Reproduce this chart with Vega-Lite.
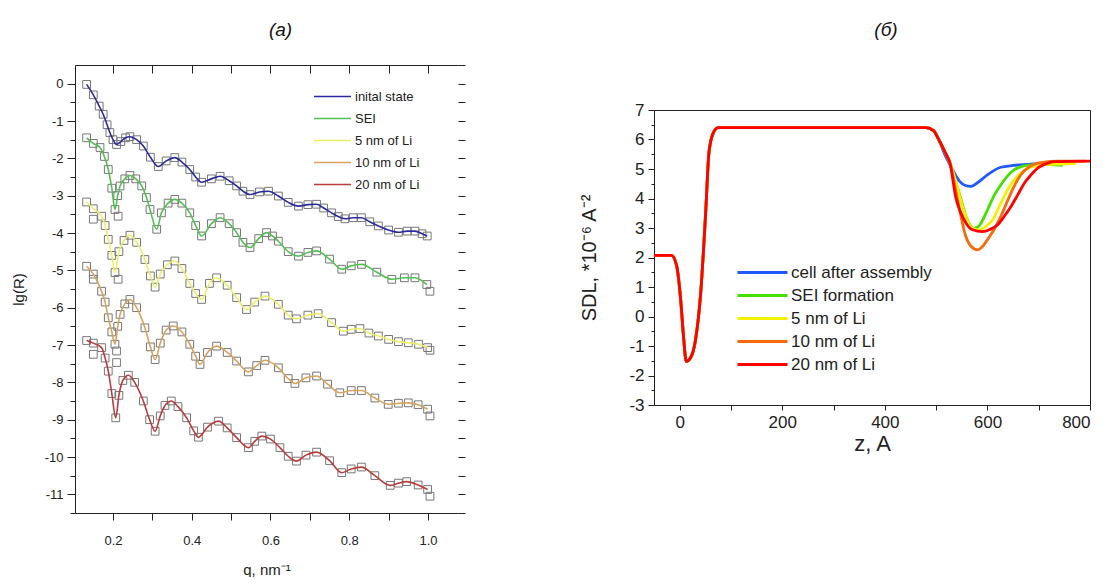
{
"$schema": "https://vega.github.io/schema/vega-lite/v6.json",
"padding": {"left": 11, "top": 20, "right": 5, "bottom": 0},
"background": "white",
"config": {
 "font": "Liberation Sans",
 "view": {"stroke": "#222", "strokeWidth": 1},
 "axis": {"grid": false, "domainColor": "#222", "tickColor": "#222", "labelColor": "#222", "titleColor": "#222", "titleFontWeight": "normal", "labelFont": "Liberation Sans", "titleFont": "Liberation Sans"},
 "title": {"font": "Liberation Sans", "fontWeight": "normal", "color": "#111"},
 "legend": {"labelFont": "Liberation Sans", "labelColor": "#222"}
},
"datasets": {
 "L": [
 {"s":"inital state","q":0.133,"r":-0.02},{"s":"inital state","q":0.15,"r":-0.3},{"s":"inital state","q":0.165,"r":-0.6},{"s":"inital state","q":0.175,"r":-0.82},{"s":"inital state","q":0.185,"r":-1.1},{"s":"inital state","q":0.192,"r":-1.31},{"s":"inital state","q":0.2,"r":-1.5},{"s":"inital state","q":0.209,"r":-1.63},{"s":"inital state","q":0.22,"r":-1.55},{"s":"inital state","q":0.232,"r":-1.45},{"s":"inital state","q":0.243,"r":-1.42},{"s":"inital state","q":0.26,"r":-1.5},{"s":"inital state","q":0.277,"r":-1.67},{"s":"inital state","q":0.295,"r":-1.97},{"s":"inital state","q":0.315,"r":-2.22},{"s":"inital state","q":0.335,"r":-2.07},{"s":"inital state","q":0.357,"r":-1.98},{"s":"inital state","q":0.375,"r":-2.1},{"s":"inital state","q":0.395,"r":-2.3},{"s":"inital state","q":0.41,"r":-2.5},{"s":"inital state","q":0.425,"r":-2.64},{"s":"inital state","q":0.45,"r":-2.55},{"s":"inital state","q":0.472,"r":-2.48},{"s":"inital state","q":0.495,"r":-2.6},{"s":"inital state","q":0.514,"r":-2.74},{"s":"inital state","q":0.53,"r":-2.88},{"s":"inital state","q":0.548,"r":-2.97},{"s":"inital state","q":0.572,"r":-2.9},{"s":"inital state","q":0.595,"r":-2.88},{"s":"inital state","q":0.62,"r":-3.01},{"s":"inital state","q":0.645,"r":-3.18},{"s":"inital state","q":0.671,"r":-3.28},{"s":"inital state","q":0.695,"r":-3.24},{"s":"inital state","q":0.717,"r":-3.23},{"s":"inital state","q":0.735,"r":-3.33},{"s":"inital state","q":0.755,"r":-3.46},{"s":"inital state","q":0.772,"r":-3.56},{"s":"inital state","q":0.789,"r":-3.62},{"s":"inital state","q":0.81,"r":-3.59},{"s":"inital state","q":0.831,"r":-3.59},{"s":"inital state","q":0.852,"r":-3.7},{"s":"inital state","q":0.874,"r":-3.81},{"s":"inital state","q":0.9,"r":-3.92},{"s":"inital state","q":0.925,"r":-3.98},{"s":"inital state","q":0.947,"r":-3.95},{"s":"inital state","q":0.967,"r":-3.95},{"s":"inital state","q":0.985,"r":-4.02},{"s":"inital state","q":0.998,"r":-4.08},
 {"s":"SEI","q":0.133,"r":-1.45},{"s":"SEI","q":0.15,"r":-1.6},{"s":"SEI","q":0.167,"r":-1.71},{"s":"SEI","q":0.178,"r":-1.95},{"s":"SEI","q":0.188,"r":-2.3},{"s":"SEI","q":0.197,"r":-2.8},{"s":"SEI","q":0.205,"r":-3.37},{"s":"SEI","q":0.212,"r":-3.0},{"s":"SEI","q":0.218,"r":-2.74},{"s":"SEI","q":0.23,"r":-2.55},{"s":"SEI","q":0.243,"r":-2.46},{"s":"SEI","q":0.258,"r":-2.55},{"s":"SEI","q":0.273,"r":-2.74},{"s":"SEI","q":0.285,"r":-3.05},{"s":"SEI","q":0.294,"r":-3.37},{"s":"SEI","q":0.311,"r":-3.9},{"s":"SEI","q":0.323,"r":-3.46},{"s":"SEI","q":0.34,"r":-3.2},{"s":"SEI","q":0.357,"r":-3.1},{"s":"SEI","q":0.375,"r":-3.2},{"s":"SEI","q":0.395,"r":-3.46},{"s":"SEI","q":0.41,"r":-3.8},{"s":"SEI","q":0.425,"r":-4.08},{"s":"SEI","q":0.45,"r":-3.75},{"s":"SEI","q":0.472,"r":-3.59},{"s":"SEI","q":0.495,"r":-3.75},{"s":"SEI","q":0.514,"r":-3.99},{"s":"SEI","q":0.53,"r":-4.25},{"s":"SEI","q":0.548,"r":-4.39},{"s":"SEI","q":0.57,"r":-4.15},{"s":"SEI","q":0.59,"r":-3.99},{"s":"SEI","q":0.605,"r":-4.08},{"s":"SEI","q":0.62,"r":-4.22},{"s":"SEI","q":0.645,"r":-4.5},{"s":"SEI","q":0.671,"r":-4.62},{"s":"SEI","q":0.695,"r":-4.52},{"s":"SEI","q":0.717,"r":-4.48},{"s":"SEI","q":0.75,"r":-4.7},{"s":"SEI","q":0.781,"r":-4.97},{"s":"SEI","q":0.805,"r":-4.88},{"s":"SEI","q":0.831,"r":-4.84},{"s":"SEI","q":0.87,"r":-5.05},{"s":"SEI","q":0.908,"r":-5.24},{"s":"SEI","q":0.94,"r":-5.2},{"s":"SEI","q":0.967,"r":-5.2},{"s":"SEI","q":0.997,"r":-5.38},
 {"s":"5 nm of Li","q":0.133,"r":-3.17},{"s":"5 nm of Li","q":0.15,"r":-3.35},{"s":"5 nm of Li","q":0.171,"r":-3.55},{"s":"5 nm of Li","q":0.18,"r":-3.8},{"s":"5 nm of Li","q":0.188,"r":-4.17},{"s":"5 nm of Li","q":0.197,"r":-4.6},{"s":"5 nm of Li","q":0.205,"r":-5.06},{"s":"5 nm of Li","q":0.215,"r":-4.5},{"s":"5 nm of Li","q":0.228,"r":-4.2},{"s":"5 nm of Li","q":0.243,"r":-4.06},{"s":"5 nm of Li","q":0.26,"r":-4.25},{"s":"5 nm of Li","q":0.281,"r":-4.71},{"s":"5 nm of Li","q":0.295,"r":-5.15},{"s":"5 nm of Li","q":0.307,"r":-5.45},{"s":"5 nm of Li","q":0.32,"r":-5.1},{"s":"5 nm of Li","q":0.338,"r":-4.85},{"s":"5 nm of Li","q":0.357,"r":-4.75},{"s":"5 nm of Li","q":0.375,"r":-4.95},{"s":"5 nm of Li","q":0.395,"r":-5.35},{"s":"5 nm of Li","q":0.41,"r":-5.62},{"s":"5 nm of Li","q":0.425,"r":-5.78},{"s":"5 nm of Li","q":0.445,"r":-5.35},{"s":"5 nm of Li","q":0.463,"r":-5.2},{"s":"5 nm of Li","q":0.49,"r":-5.4},{"s":"5 nm of Li","q":0.514,"r":-5.73},{"s":"5 nm of Li","q":0.539,"r":-6.05},{"s":"5 nm of Li","q":0.56,"r":-5.85},{"s":"5 nm of Li","q":0.586,"r":-5.69},{"s":"5 nm of Li","q":0.62,"r":-5.91},{"s":"5 nm of Li","q":0.645,"r":-6.2},{"s":"5 nm of Li","q":0.666,"r":-6.3},{"s":"5 nm of Li","q":0.695,"r":-6.2},{"s":"5 nm of Li","q":0.721,"r":-6.16},{"s":"5 nm of Li","q":0.755,"r":-6.4},{"s":"5 nm of Li","q":0.785,"r":-6.63},{"s":"5 nm of Li","q":0.805,"r":-6.58},{"s":"5 nm of Li","q":0.827,"r":-6.56},{"s":"5 nm of Li","q":0.85,"r":-6.68},{"s":"5 nm of Li","q":0.874,"r":-6.76},{"s":"5 nm of Li","q":0.9,"r":-6.85},{"s":"5 nm of Li","q":0.925,"r":-6.91},{"s":"5 nm of Li","q":0.95,"r":-6.94},{"s":"5 nm of Li","q":0.976,"r":-6.98},{"s":"5 nm of Li","q":0.999,"r":-7.07},
 {"s":"10 nm of Li","q":0.133,"r":-4.89},{"s":"10 nm of Li","q":0.15,"r":-5.1},{"s":"10 nm of Li","q":0.171,"r":-5.56},{"s":"10 nm of Li","q":0.18,"r":-5.85},{"s":"10 nm of Li","q":0.188,"r":-6.27},{"s":"10 nm of Li","q":0.197,"r":-6.65},{"s":"10 nm of Li","q":0.205,"r":-6.98},{"s":"10 nm of Li","q":0.212,"r":-6.5},{"s":"10 nm of Li","q":0.218,"r":-6.18},{"s":"10 nm of Li","q":0.23,"r":-5.9},{"s":"10 nm of Li","q":0.243,"r":-5.78},{"s":"10 nm of Li","q":0.26,"r":-6.0},{"s":"10 nm of Li","q":0.281,"r":-6.54},{"s":"10 nm of Li","q":0.295,"r":-7.05},{"s":"10 nm of Li","q":0.307,"r":-7.39},{"s":"10 nm of Li","q":0.32,"r":-6.95},{"s":"10 nm of Li","q":0.335,"r":-6.6},{"s":"10 nm of Li","q":0.353,"r":-6.49},{"s":"10 nm of Li","q":0.375,"r":-6.65},{"s":"10 nm of Li","q":0.395,"r":-6.98},{"s":"10 nm of Li","q":0.41,"r":-7.3},{"s":"10 nm of Li","q":0.421,"r":-7.52},{"s":"10 nm of Li","q":0.44,"r":-7.2},{"s":"10 nm of Li","q":0.463,"r":-7.03},{"s":"10 nm of Li","q":0.49,"r":-7.2},{"s":"10 nm of Li","q":0.514,"r":-7.43},{"s":"10 nm of Li","q":0.544,"r":-7.72},{"s":"10 nm of Li","q":0.565,"r":-7.55},{"s":"10 nm of Li","q":0.586,"r":-7.41},{"s":"10 nm of Li","q":0.62,"r":-7.61},{"s":"10 nm of Li","q":0.645,"r":-7.9},{"s":"10 nm of Li","q":0.662,"r":-8.03},{"s":"10 nm of Li","q":0.69,"r":-7.88},{"s":"10 nm of Li","q":0.717,"r":-7.83},{"s":"10 nm of Li","q":0.745,"r":-8.05},{"s":"10 nm of Li","q":0.776,"r":-8.28},{"s":"10 nm of Li","q":0.805,"r":-8.22},{"s":"10 nm of Li","q":0.831,"r":-8.22},{"s":"10 nm of Li","q":0.865,"r":-8.42},{"s":"10 nm of Li","q":0.899,"r":-8.59},{"s":"10 nm of Li","q":0.925,"r":-8.56},{"s":"10 nm of Li","q":0.95,"r":-8.55},{"s":"10 nm of Li","q":0.975,"r":-8.6},{"s":"10 nm of Li","q":0.999,"r":-8.72},
 {"s":"20 nm of Li","q":0.133,"r":-6.88},{"s":"20 nm of Li","q":0.15,"r":-6.95},{"s":"20 nm of Li","q":0.171,"r":-7.07},{"s":"20 nm of Li","q":0.18,"r":-7.35},{"s":"20 nm of Li","q":0.188,"r":-7.7},{"s":"20 nm of Li","q":0.197,"r":-8.3},{"s":"20 nm of Li","q":0.207,"r":-8.95},{"s":"20 nm of Li","q":0.215,"r":-8.35},{"s":"20 nm of Li","q":0.225,"r":-7.95},{"s":"20 nm of Li","q":0.239,"r":-7.81},{"s":"20 nm of Li","q":0.255,"r":-8.0},{"s":"20 nm of Li","q":0.277,"r":-8.5},{"s":"20 nm of Li","q":0.293,"r":-9.0},{"s":"20 nm of Li","q":0.307,"r":-9.31},{"s":"20 nm of Li","q":0.32,"r":-8.9},{"s":"20 nm of Li","q":0.332,"r":-8.62},{"s":"20 nm of Li","q":0.348,"r":-8.5},{"s":"20 nm of Li","q":0.365,"r":-8.65},{"s":"20 nm of Li","q":0.387,"r":-8.95},{"s":"20 nm of Li","q":0.405,"r":-9.3},{"s":"20 nm of Li","q":0.417,"r":-9.47},{"s":"20 nm of Li","q":0.44,"r":-9.2},{"s":"20 nm of Li","q":0.468,"r":-9.04},{"s":"20 nm of Li","q":0.49,"r":-9.22},{"s":"20 nm of Li","q":0.514,"r":-9.48},{"s":"20 nm of Li","q":0.544,"r":-9.75},{"s":"20 nm of Li","q":0.56,"r":-9.58},{"s":"20 nm of Li","q":0.578,"r":-9.44},{"s":"20 nm of Li","q":0.6,"r":-9.52},{"s":"20 nm of Li","q":0.624,"r":-9.75},{"s":"20 nm of Li","q":0.645,"r":-9.98},{"s":"20 nm of Li","q":0.666,"r":-10.11},{"s":"20 nm of Li","q":0.69,"r":-9.95},{"s":"20 nm of Li","q":0.717,"r":-9.87},{"s":"20 nm of Li","q":0.75,"r":-10.1},{"s":"20 nm of Li","q":0.781,"r":-10.42},{"s":"20 nm of Li","q":0.805,"r":-10.32},{"s":"20 nm of Li","q":0.831,"r":-10.27},{"s":"20 nm of Li","q":0.865,"r":-10.5},{"s":"20 nm of Li","q":0.904,"r":-10.76},{"s":"20 nm of Li","q":0.925,"r":-10.7},{"s":"20 nm of Li","q":0.946,"r":-10.66},{"s":"20 nm of Li","q":0.975,"r":-10.75},{"s":"20 nm of Li","q":0.999,"r":-10.87}
 ],
 "X": [
 {"q":1.005,"r":-5.56},{"q":1.005,"r":-7.14},{"q":1.005,"r":-8.9},{"q":1.005,"r":-11.05},{"q":0.213,"r":-3.55},{"q":0.213,"r":-5.24},{"q":0.209,"r":-7.16},{"q":0.209,"r":-7.47},{"q":0.15,"r":-3.63},{"q":0.15,"r":-5.24},{"q":0.15,"r":-7.25}
 ],
 "R": [
 {"c":"cell after assembly","z":-50,"v":2.07},{"c":"cell after assembly","z":-16,"v":2.07},{"c":"cell after assembly","z":-6,"v":1.73},{"c":"cell after assembly","z":2,"v":0.57},{"c":"cell after assembly","z":7,"v":-0.56},{"c":"cell after assembly","z":13,"v":-1.52},{"c":"cell after assembly","z":21,"v":-1.41},{"c":"cell after assembly","z":31,"v":-0.79},{"c":"cell after assembly","z":41,"v":0.79},{"c":"cell after assembly","z":51,"v":3.61},{"c":"cell after assembly","z":57,"v":5.53},{"c":"cell after assembly","z":65,"v":6.2},{"c":"cell after assembly","z":75,"v":6.4},{"c":"cell after assembly","z":480,"v":6.4},{"c":"cell after assembly","z":495,"v":6.3},
 {"c":"cell after assembly","z":505,"v":6.0},{"c":"cell after assembly","z":516,"v":5.53},{"c":"cell after assembly","z":529,"v":5.08},{"c":"cell after assembly","z":545,"v":4.6},{"c":"cell after assembly","z":557,"v":4.44},{"c":"cell after assembly","z":568,"v":4.41},{"c":"cell after assembly","z":582,"v":4.55},{"c":"cell after assembly","z":600,"v":4.8},{"c":"cell after assembly","z":626,"v":5.06},{"c":"cell after assembly","z":650,"v":5.12},{"c":"cell after assembly","z":678,"v":5.16},{"c":"cell after assembly","z":710,"v":5.2},{"c":"cell after assembly","z":740,"v":5.22},
 {"c":"SEI formation","z":-50,"v":2.07},{"c":"SEI formation","z":-16,"v":2.07},{"c":"SEI formation","z":-6,"v":1.73},{"c":"SEI formation","z":2,"v":0.57},{"c":"SEI formation","z":7,"v":-0.56},{"c":"SEI formation","z":13,"v":-1.52},{"c":"SEI formation","z":21,"v":-1.41},{"c":"SEI formation","z":31,"v":-0.79},{"c":"SEI formation","z":41,"v":0.79},{"c":"SEI formation","z":51,"v":3.61},{"c":"SEI formation","z":57,"v":5.53},{"c":"SEI formation","z":65,"v":6.2},{"c":"SEI formation","z":75,"v":6.4},{"c":"SEI formation","z":480,"v":6.4},{"c":"SEI formation","z":495,"v":6.3},
 {"c":"SEI formation","z":505,"v":6.0},{"c":"SEI formation","z":518,"v":5.55},{"c":"SEI formation","z":527,"v":5.2},{"c":"SEI formation","z":538,"v":4.6},{"c":"SEI formation","z":548,"v":4.0},{"c":"SEI formation","z":558,"v":3.4},{"c":"SEI formation","z":566,"v":3.1},{"c":"SEI formation","z":574,"v":2.99},{"c":"SEI formation","z":585,"v":3.1},{"c":"SEI formation","z":600,"v":3.61},{"c":"SEI formation","z":613,"v":4.1},{"c":"SEI formation","z":626,"v":4.46},{"c":"SEI formation","z":652,"v":4.97},{"c":"SEI formation","z":685,"v":5.14},{"c":"SEI formation","z":720,"v":5.15},{"c":"SEI formation","z":747,"v":5.12},
 {"c":"5 nm of Li","z":-50,"v":2.07},{"c":"5 nm of Li","z":-16,"v":2.07},{"c":"5 nm of Li","z":-6,"v":1.73},{"c":"5 nm of Li","z":2,"v":0.57},{"c":"5 nm of Li","z":7,"v":-0.56},{"c":"5 nm of Li","z":13,"v":-1.52},{"c":"5 nm of Li","z":21,"v":-1.41},{"c":"5 nm of Li","z":31,"v":-0.79},{"c":"5 nm of Li","z":41,"v":0.79},{"c":"5 nm of Li","z":51,"v":3.61},{"c":"5 nm of Li","z":57,"v":5.53},{"c":"5 nm of Li","z":65,"v":6.2},{"c":"5 nm of Li","z":75,"v":6.4},{"c":"5 nm of Li","z":480,"v":6.4},{"c":"5 nm of Li","z":495,"v":6.3},
 {"c":"5 nm of Li","z":505,"v":6.0},{"c":"5 nm of Li","z":518,"v":5.55},{"c":"5 nm of Li","z":527,"v":5.2},{"c":"5 nm of Li","z":538,"v":4.6},{"c":"5 nm of Li","z":550,"v":3.8},{"c":"5 nm of Li","z":562,"v":3.2},{"c":"5 nm of Li","z":572,"v":2.98},{"c":"5 nm of Li","z":584,"v":2.93},{"c":"5 nm of Li","z":597,"v":3.05},{"c":"5 nm of Li","z":610,"v":3.27},{"c":"5 nm of Li","z":625,"v":3.8},{"c":"5 nm of Li","z":639,"v":4.29},{"c":"5 nm of Li","z":665,"v":4.86},{"c":"5 nm of Li","z":704,"v":5.14},{"c":"5 nm of Li","z":740,"v":5.17},{"c":"5 nm of Li","z":773,"v":5.18},
 {"c":"10 nm of Li","z":-50,"v":2.07},{"c":"10 nm of Li","z":-16,"v":2.07},{"c":"10 nm of Li","z":-6,"v":1.73},{"c":"10 nm of Li","z":2,"v":0.57},{"c":"10 nm of Li","z":7,"v":-0.56},{"c":"10 nm of Li","z":13,"v":-1.52},{"c":"10 nm of Li","z":21,"v":-1.41},{"c":"10 nm of Li","z":31,"v":-0.79},{"c":"10 nm of Li","z":41,"v":0.79},{"c":"10 nm of Li","z":51,"v":3.61},{"c":"10 nm of Li","z":57,"v":5.53},{"c":"10 nm of Li","z":65,"v":6.2},{"c":"10 nm of Li","z":75,"v":6.4},{"c":"10 nm of Li","z":480,"v":6.4},{"c":"10 nm of Li","z":495,"v":6.3},
 {"c":"10 nm of Li","z":505,"v":6.0},{"c":"10 nm of Li","z":518,"v":5.55},{"c":"10 nm of Li","z":527,"v":5.2},{"c":"10 nm of Li","z":542,"v":3.95},{"c":"10 nm of Li","z":558,"v":2.71},{"c":"10 nm of Li","z":568,"v":2.38},{"c":"10 nm of Li","z":581,"v":2.26},{"c":"10 nm of Li","z":592,"v":2.4},{"c":"10 nm of Li","z":600,"v":2.6},{"c":"10 nm of Li","z":613,"v":2.95},{"c":"10 nm of Li","z":626,"v":3.39},{"c":"10 nm of Li","z":640,"v":3.95},{"c":"10 nm of Li","z":652,"v":4.41},{"c":"10 nm of Li","z":665,"v":4.8},{"c":"10 nm of Li","z":678,"v":5.03},{"c":"10 nm of Li","z":704,"v":5.22},{"c":"10 nm of Li","z":740,"v":5.27},{"c":"10 nm of Li","z":790,"v":5.27},
 {"c":"20 nm of Li","z":-50,"v":2.07},{"c":"20 nm of Li","z":-16,"v":2.07},{"c":"20 nm of Li","z":-6,"v":1.73},{"c":"20 nm of Li","z":2,"v":0.57},{"c":"20 nm of Li","z":7,"v":-0.56},{"c":"20 nm of Li","z":13,"v":-1.52},{"c":"20 nm of Li","z":21,"v":-1.41},{"c":"20 nm of Li","z":31,"v":-0.79},{"c":"20 nm of Li","z":41,"v":0.79},{"c":"20 nm of Li","z":51,"v":3.61},{"c":"20 nm of Li","z":57,"v":5.53},{"c":"20 nm of Li","z":65,"v":6.2},{"c":"20 nm of Li","z":75,"v":6.4},{"c":"20 nm of Li","z":480,"v":6.4},{"c":"20 nm of Li","z":495,"v":6.3},
 {"c":"20 nm of Li","z":505,"v":6.0},{"c":"20 nm of Li","z":518,"v":5.55},{"c":"20 nm of Li","z":527,"v":5.2},{"c":"20 nm of Li","z":538,"v":4.07},{"c":"20 nm of Li","z":555,"v":3.27},{"c":"20 nm of Li","z":571,"v":2.94},{"c":"20 nm of Li","z":590,"v":2.88},{"c":"20 nm of Li","z":605,"v":2.95},{"c":"20 nm of Li","z":620,"v":3.11},{"c":"20 nm of Li","z":633,"v":3.4},{"c":"20 nm of Li","z":646,"v":3.73},{"c":"20 nm of Li","z":660,"v":4.15},{"c":"20 nm of Li","z":672,"v":4.52},{"c":"20 nm of Li","z":685,"v":4.8},{"c":"20 nm of Li","z":698,"v":5.03},{"c":"20 nm of Li","z":715,"v":5.18},{"c":"20 nm of Li","z":730,"v":5.25},{"c":"20 nm of Li","z":800,"v":5.27}
 ]
},
"spacing": 113,
"resolve": {"scale": {"color": "independent"}, "legend": {"color": "independent"}},
"hconcat": [
 {
  "width": 383, "height": 448,
  "view": {"stroke": null},
  "title": {"text": "(а)", "fontSize": 19, "fontStyle": "italic", "offset": 25, "dx": 14},
  "resolve": {"axis": {"x": "independent", "y": "independent"}},
  "layer": [
   {"data": {"name": "L"},
    "mark": {"type": "point", "shape": "square", "filled": false, "size": 60, "stroke": "#777", "strokeWidth": 1, "opacity": 1},
    "encoding": {
     "x": {"field": "q", "type": "quantitative", "scale": {"domain": [0.1035, 1.0762], "nice": false, "zero": false},
      "axis": {"orient": "bottom", "values": [0.2,0.3,0.4,0.5,0.6,0.7,0.8,0.9,1.0], "labelExpr": "round(datum.value*10) % 2 === 0 ? format(datum.value, '.1f') : ''", "title": "q, nm⁻¹", "tickSize": 7, "labelPadding": 14, "labelFontSize": 13, "titleFontSize": 15, "titlePadding": 15}},
     "y": {"field": "r", "type": "quantitative", "scale": {"domain": [-11.5, 0.5], "nice": false, "zero": false},
      "axis": {"orient": "left", "values": [-11.5,-11,-10.5,-10,-9.5,-9,-8.5,-8,-7.5,-7,-6.5,-6,-5.5,-5,-4.5,-4,-3.5,-3,-2.5,-2,-1.5,-1,-0.5,0], "labelExpr": "datum.value % 1 === 0 ? '' + datum.value : ''", "tickSize": {"condition": {"test": "datum.value % 1 === 0", "value": 8}, "value": 5}, "labelPadding": 4, "labelFontSize": 13, "title": "lg(R)", "titleFontSize": 15, "titlePadding": 18}}
    }},
   {"data": {"name": "X"},
    "mark": {"type": "point", "shape": "square", "filled": false, "size": 60, "stroke": "#777", "strokeWidth": 1, "opacity": 1},
    "encoding": {
     "x": {"field": "q", "type": "quantitative", "axis": null},
     "y": {"field": "r", "type": "quantitative", "axis": null}
    }},
   {"data": {"name": "L"},
    "mark": {"type": "line", "strokeWidth": 1.6, "interpolate": "monotone"},
    "encoding": {
     "x": {"field": "q", "type": "quantitative", "axis": {"orient": "top", "labels": false, "title": null, "values": [0.2,0.3,0.4,0.5,0.6,0.7,0.8,0.9,1.0], "tickSize": -8}},
     "y": {"field": "r", "type": "quantitative", "axis": {"orient": "right", "domain": false, "labels": false, "title": null, "tickSize": 7, "values": [-11.5,-11,-10.5,-10,-9.5,-9,-8.5,-8,-7.5,-7,-6.5,-6,-5.5,-5,-4.5,-4,-3.5,-3,-2.5,-2,-1.5,-1,-0.5,0,0.5]}},
     "color": {"field": "s", "type": "nominal", "scale": {"domain": ["inital state","SEI","5 nm of Li","10 nm of Li","20 nm of Li"], "range": ["#2b2b9e","#52c052","#eeee66","#d9a35c","#bb3b3b"]},
      "legend": {"orient": "none", "legendX": 251, "legendY": 25, "title": null, "symbolType": "M-3.7,0H3.7", "symbolSize": 100, "symbolStrokeWidth": 1.5, "labelFontSize": 13, "rowPadding": 8, "labelOffset": 16, "padding": 0}}
    }}
  ]
 },
 {
  "spacing": 8,
  "vconcat": [
   {
    "width": 436, "height": 27,
    "view": {"stroke": null},
    "title": {"text": "(б)", "fontSize": 19, "fontStyle": "italic", "offset": 25, "dx": 14},
    "data": {"values": [{"t": 0}]},
    "mark": {"type": "point", "opacity": 0},
    "encoding": {}
   },
   {
    "width": 436, "height": 295,
    "data": {"name": "R"},
    "mark": {"type": "line", "strokeWidth": 2.8, "interpolate": "monotone"},
    "encoding": {
     "x": {"field": "z", "type": "quantitative", "scale": {"domain": [-50, 800], "nice": false, "zero": false},
      "axis": {"values": [0,100,200,300,400,500,600,700,800], "labelExpr": "datum.value % 200 === 0 ? '' + datum.value : ''", "tickSize": 5, "labelFontSize": 17, "labelPadding": 4, "title": "z, A", "titleFontSize": 22, "titlePadding": 3}},
     "y": {"field": "v", "type": "quantitative", "scale": {"domain": [-3, 7], "nice": false, "zero": false},
      "axis": {"values": [-3,-2.5,-2,-1.5,-1,-0.5,0,0.5,1,1.5,2,2.5,3,3.5,4,4.5,5,5.5,6,6.5,7], "labelExpr": "datum.value % 1 === 0 ? '' + datum.value : ''", "tickSize": {"condition": {"test": "datum.value % 1 === 0", "value": 6}, "value": 3}, "labelPadding": 4, "labelFontSize": 17, "title": "SDL, *10⁻⁶ A⁻²", "titleFontSize": 20, "titlePadding": 29}},
     "color": {"field": "c", "type": "nominal", "scale": {"domain": ["cell after assembly","SEI formation","5 nm of Li","10 nm of Li","20 nm of Li"], "range": ["#2158ff","#44e000","#f5f000","#f56a0a","#ff0000"]},
      "legend": {"orient": "none", "legendX": 100, "legendY": 199, "title": null, "symbolType": "M-5,0H5", "symbolSize": 100, "symbolStrokeWidth": 3, "labelFontSize": 17, "rowPadding": 5, "labelOffset": 20, "padding": 0}}
    }
   }
  ]
 }
]
}
